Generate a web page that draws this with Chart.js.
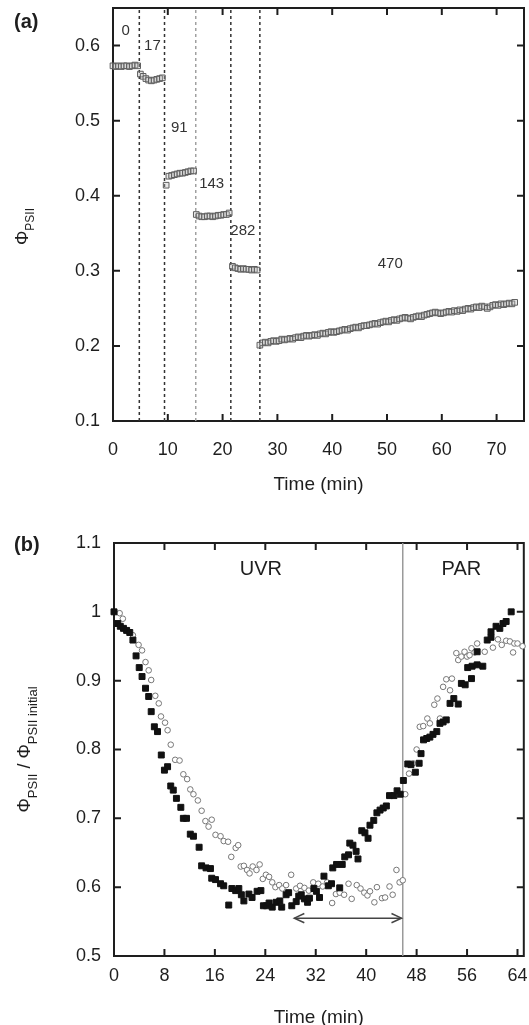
<!DOCTYPE html>
<html>
<head>
<meta charset="utf-8">
<script src="https://cdn.jsdelivr.net/npm/chart.js@4.4.1/dist/chart.umd.min.js"></script>
<style>
  html, body { margin: 0; padding: 0; background: #fff; }
  #wrapA { position: absolute; left: 0; top: 0; width: 529px; height: 505px; }
  #wrapB { position: absolute; left: 0; top: 505px; width: 529px; height: 520px; }
</style>
</head>
<body>
<div id="wrapA"><canvas id="chartA" width="529" height="505"></canvas></div>
<div id="wrapB"><canvas id="chartB" width="529" height="520"></canvas></div>
<script>
// ---- panel (a): PSII yield under stepwise irradiance ----
const aTime = [
  0.0, 0.5, 1.0, 1.5, 2.0, 2.5, 3.0, 3.5, 4.0, 4.5,
  5.0, 5.5, 6.0, 6.5, 7.0, 7.5, 8.0, 8.5, 9.0,
  9.7, 10.2, 10.7, 11.2, 11.7, 12.2, 12.7, 13.2, 13.7, 14.2, 14.7,
  15.2, 15.7, 16.2, 16.7, 17.2, 17.7, 18.2, 18.7, 19.2, 19.7, 20.2, 20.7, 21.2,
  21.8, 22.3, 22.8, 23.3, 23.8, 24.3, 24.8, 25.3, 25.8, 26.3,
  26.8, 27.3, 27.8, 28.3, 28.8, 29.3, 29.8, 30.3, 30.8, 31.3,
  31.8, 32.3, 32.8, 33.3, 33.8, 34.3, 34.8, 35.3, 35.8, 36.3,
  36.8, 37.3, 37.8, 38.3, 38.8, 39.3, 39.8, 40.3, 40.8, 41.3,
  41.8, 42.3, 42.8, 43.3, 43.8, 44.3, 44.8, 45.3, 45.8, 46.3,
  46.8, 47.3, 47.8, 48.3, 48.8, 49.3, 49.8, 50.3, 50.8, 51.3,
  51.8, 52.3, 52.8, 53.3, 53.8, 54.3, 54.8, 55.3, 55.8, 56.3,
  56.8, 57.3, 57.8, 58.3, 58.8, 59.3, 59.8, 60.3, 60.8, 61.3,
  61.8, 62.3, 62.8, 63.3, 63.8, 64.3, 64.8, 65.3, 65.8, 66.3,
  66.8, 67.3, 67.8, 68.3, 68.8, 69.3, 69.8, 70.3, 70.8, 71.3,
  71.8, 72.3, 72.8, 73.3
];
const aPsii = [
  0.573, 0.572, 0.573, 0.572, 0.573, 0.573, 0.572, 0.573, 0.574, 0.573,
  0.562, 0.559, 0.556, 0.554, 0.553, 0.554, 0.555, 0.556, 0.557,
  0.414, 0.426, 0.427, 0.428, 0.429, 0.430, 0.430, 0.431, 0.432, 0.433, 0.433,
  0.375, 0.373, 0.372, 0.372, 0.373, 0.373, 0.372, 0.373, 0.374, 0.374, 0.375, 0.375, 0.377,
  0.306, 0.304, 0.303, 0.302, 0.303, 0.302, 0.302, 0.301, 0.302, 0.301,
  0.201, 0.204, 0.205, 0.204, 0.206, 0.207, 0.206, 0.207, 0.209, 0.208,
  0.209, 0.210, 0.209, 0.211, 0.212, 0.211, 0.213, 0.214, 0.213, 0.214,
  0.215, 0.214, 0.216, 0.217, 0.216, 0.218, 0.219, 0.218, 0.219, 0.220,
  0.221, 0.222, 0.221, 0.223, 0.224, 0.225, 0.224, 0.226, 0.227, 0.227,
  0.228, 0.229, 0.230, 0.229, 0.231, 0.232, 0.233, 0.232, 0.234, 0.235,
  0.234, 0.236, 0.237, 0.238, 0.237, 0.236, 0.238, 0.239, 0.240, 0.239,
  0.241, 0.242, 0.243, 0.244, 0.245, 0.244, 0.243, 0.244, 0.245, 0.246,
  0.245, 0.247, 0.246, 0.248, 0.247, 0.249, 0.250, 0.249, 0.251, 0.252,
  0.251, 0.253, 0.252, 0.250, 0.252, 0.254, 0.255, 0.254, 0.256, 0.255,
  0.256, 0.257, 0.256, 0.258
];
// irradiance changes (min) and the irradiance of each step
const aSteps = [4.8, 9.4, 15.1, 21.5, 26.8];
const aLevels = ['0', '17', '91', '143', '282', '470'];

// ---- panel (b): relative yield, UVR then PAR ----
const bTimeSq = [
  0.0, 0.6, 1.0, 1.5, 2.0, 2.5, 3.0, 3.5, 4.0, 4.45, 5.0, 5.5, 5.9, 6.4, 6.9,
  7.5, 8.0, 8.5, 9.0, 9.4, 9.9, 10.6, 11.0, 11.5, 12.1, 12.6, 13.5, 13.9, 14.6,
  15.3, 15.5, 16.1, 16.9, 17.4, 18.2, 18.7, 19.3, 19.8, 20.2, 20.6, 21.4, 21.9,
  22.7, 23.3, 23.7, 24.2, 24.6, 25.1, 25.7, 26.3, 26.6, 27.3, 27.7, 28.2, 28.9,
  29.3, 29.7, 30.2, 30.7, 31.0, 31.7, 32.1, 32.6, 33.3, 34.0, 34.5, 34.7, 35.3,
  35.8, 36.2, 36.6, 37.2, 37.4, 37.9, 38.4, 38.7, 39.3, 39.8, 40.3, 40.6, 41.2,
  41.7, 42.2, 42.7, 43.2, 43.7, 44.4, 44.9, 45.4, 45.9, 46.6, 47.1, 47.8, 48.4,
  48.7, 49.1, 49.6, 50.1, 50.6, 51.2, 51.7, 52.2, 52.7, 53.3, 53.9, 54.6, 55.1,
  55.7, 56.1, 56.7, 56.8, 57.6, 57.6, 58.5, 59.2, 59.8, 59.8, 60.6, 61.2, 61.7,
  62.2, 63.0
];
const bSq = [
  1.000, 0.983, 0.979, 0.976, 0.973, 0.970, 0.959, 0.936, 0.919, 0.906, 0.889, 0.877, 0.855, 0.833, 0.826,
  0.792, 0.770, 0.775, 0.747, 0.741, 0.729, 0.716, 0.700, 0.700, 0.677, 0.674, 0.658, 0.631, 0.628,
  0.627, 0.613, 0.611, 0.605, 0.602, 0.574, 0.598, 0.595, 0.598, 0.589, 0.580, 0.590, 0.585,
  0.594, 0.595, 0.573, 0.573, 0.577, 0.571, 0.578, 0.580, 0.571, 0.589, 0.592, 0.573, 0.579,
  0.587, 0.589, 0.583, 0.578, 0.584, 0.598, 0.594, 0.585, 0.616, 0.602, 0.605, 0.628, 0.633,
  0.599, 0.633, 0.644, 0.647, 0.664, 0.661, 0.652, 0.641, 0.682, 0.679, 0.671, 0.690, 0.697,
  0.708, 0.712, 0.715, 0.718, 0.733, 0.733, 0.740, 0.735, 0.755, 0.779, 0.778, 0.767, 0.780,
  0.794, 0.814, 0.816, 0.818, 0.822, 0.826, 0.838, 0.840, 0.843, 0.867, 0.874, 0.866, 0.896,
  0.894, 0.919, 0.903, 0.921, 0.923, 0.942, 0.921, 0.959, 0.963, 0.971, 0.979, 0.976, 0.983,
  0.986, 1.000
];
const bTimeCi = [
  0.9, 1.4, 3.0, 3.9, 4.45, 5.0, 5.5, 5.9, 6.55, 7.1, 7.45, 8.1, 8.5, 9.0, 9.7,
  10.4, 11.0, 11.6, 12.1, 12.6, 13.3, 13.9, 14.5, 15.0, 15.5, 16.1, 16.9, 17.4,
  18.1, 18.6, 19.3, 19.7, 20.1, 20.6, 21.1, 21.5, 22.0, 22.6, 23.1, 23.6, 24.1,
  24.6, 25.1, 25.6, 26.2, 26.7, 27.3, 28.1, 28.9, 29.5, 30.2, 30.9, 31.6, 32.4,
  33.1, 33.8, 34.6, 35.2, 35.8, 36.5, 37.2, 37.7, 38.5, 39.1, 39.7, 40.2, 40.6,
  41.3, 41.7, 42.5, 43.0, 43.7, 44.2, 44.8, 45.3, 45.8, 46.2, 46.8, 47.4, 48.0,
  48.5, 49.05, 49.7, 50.1, 50.8, 51.3, 51.7, 52.2, 52.7, 53.3, 53.6, 54.3, 54.6,
  55.1, 55.6, 56.0, 56.4, 56.7, 57.2, 57.6, 58.8, 60.1, 60.9, 61.5, 62.2, 62.8,
  63.3, 63.5, 64.0, 64.8
];
const bCi = [
  0.998, 0.990, 0.966, 0.952, 0.944, 0.927, 0.915, 0.901, 0.878, 0.867, 0.848, 0.839, 0.828, 0.807, 0.785,
  0.784, 0.764, 0.757, 0.742, 0.735, 0.726, 0.711, 0.696, 0.688, 0.698, 0.676, 0.674, 0.667,
  0.666, 0.644, 0.657, 0.661, 0.630, 0.631, 0.625, 0.620, 0.630, 0.625, 0.633, 0.612, 0.618,
  0.615, 0.607, 0.600, 0.603, 0.598, 0.603, 0.618, 0.598, 0.602, 0.599, 0.595, 0.607, 0.605,
  0.601, 0.607, 0.577, 0.590, 0.592, 0.589, 0.605, 0.583, 0.603, 0.598, 0.592, 0.588, 0.594,
  0.578, 0.600, 0.584, 0.585, 0.601, 0.589, 0.625, 0.607, 0.610, 0.735, 0.765, 0.780, 0.800,
  0.833, 0.834, 0.845, 0.838, 0.865, 0.874, 0.845, 0.891, 0.902, 0.886, 0.903, 0.940, 0.930,
  0.935, 0.942, 0.935, 0.937, 0.947, 0.941, 0.954, 0.942, 0.948, 0.960, 0.952, 0.958, 0.957,
  0.941, 0.954, 0.954, 0.950
];
const bSwitch = 45.8;          // UVR off, PAR on
const bArrow = [28.6, 45.6];   // recovery window
const bArrowLevel = 0.555;

const FONT = "'Liberation Sans', Arial, Helvetica, sans-serif";
const INK = '#1e1e1e';

function pairs(xs, ys) {
  return xs.map((x, i) => ({ x: x, y: ys[i] }));
}

function fmt(v) {
  return String(+v.toFixed(2));
}

// frame on all four sides with inward ticks
const framePlugin = {
  id: 'frame',
  beforeDatasetsDraw(chart) {
    const { ctx, chartArea: a } = chart;
    const x = chart.scales.x, y = chart.scales.y;
    const len = 7;
    ctx.save();
    ctx.strokeStyle = INK;
    ctx.lineWidth = 2;
    ctx.strokeRect(a.left, a.top, a.right - a.left, a.bottom - a.top);
    ctx.beginPath();
    x.ticks.forEach(t => {
      const px = x.getPixelForValue(t.value);
      ctx.moveTo(px, a.bottom); ctx.lineTo(px, a.bottom - len);
      ctx.moveTo(px, a.top); ctx.lineTo(px, a.top + len);
    });
    y.ticks.forEach(t => {
      const py = y.getPixelForValue(t.value);
      ctx.moveTo(a.left, py); ctx.lineTo(a.left + len, py);
      ctx.moveTo(a.right, py); ctx.lineTo(a.right - len, py);
    });
    ctx.stroke();
    ctx.restore();
  }
};

// open arrow heads at both ends of datasets flagged with arrow: true
const arrowPlugin = {
  id: 'arrowHeads',
  afterDatasetsDraw(chart) {
    const ctx = chart.ctx;
    chart.data.datasets.forEach((ds, i) => {
      if (!ds.arrow) return;
      const pts = chart.getDatasetMeta(i).data;
      const ends = [[pts[0], pts[1]], [pts[pts.length - 1], pts[pts.length - 2]]];
      ctx.save();
      ctx.strokeStyle = ds.borderColor;
      ctx.lineWidth = ds.borderWidth;
      ends.forEach(([tip, from]) => {
        const ang = Math.atan2(from.y - tip.y, from.x - tip.x);
        const L = 11, w = 0.43;
        ctx.beginPath();
        ctx.moveTo(tip.x + L * Math.cos(ang + w), tip.y + L * Math.sin(ang + w));
        ctx.lineTo(tip.x, tip.y);
        ctx.lineTo(tip.x + L * Math.cos(ang - w), tip.y + L * Math.sin(ang - w));
        ctx.stroke();
      });
      ctx.restore();
    });
  }
};

// text: panel letter, axis titles (with subscripts) and in-plot notes
const textPlugin = {
  id: 'texts',
  afterDraw(chart, args, opts) {
    const ctx = chart.ctx;
    const x = chart.scales.x, y = chart.scales.y;
    ctx.save();
    ctx.fillStyle = INK;
    ctx.textBaseline = 'middle';
    ctx.textAlign = 'left';
    ctx.font = 'bold 20px ' + FONT;
    ctx.fillText(opts.letter, 14, opts.letterY);

    ctx.textAlign = 'center';
    ctx.font = '19px ' + FONT;
    ctx.fillText('Time (min)', (chart.chartArea.left + chart.chartArea.right) / 2, opts.xTitleY);

    (opts.notes || []).forEach(n => {
      ctx.fillStyle = n.color || INK;
      ctx.font = n.size + 'px ' + FONT;
      ctx.fillText(n.text, x.getPixelForValue(n.x), y.getPixelForValue(n.y));
    });

    // rotated y title built from parts
    ctx.fillStyle = INK;
    ctx.translate(opts.yTitle.x, (chart.chartArea.top + chart.chartArea.bottom) / 2 + opts.yTitle.shift);
    ctx.rotate(-Math.PI / 2);
    ctx.textAlign = 'left';
    ctx.textBaseline = 'alphabetic';
    let total = 0;
    opts.yTitle.parts.forEach(p => {
      ctx.font = p.size + 'px ' + FONT;
      p.w = ctx.measureText(p.text).width;
      total += p.w;
    });
    let cx = -total / 2;
    opts.yTitle.parts.forEach(p => {
      ctx.font = p.size + 'px ' + FONT;
      ctx.fillText(p.text, cx, p.dy);
      cx += p.w;
    });
    ctx.restore();
  }
};

function axes(xMin, xMax, xStep, yMin, yMax, yStep, yWidth, xHeight, xPad) {
  const tickFont = { family: FONT, size: 18 };
  return {
    x: {
      type: 'linear', min: xMin, max: xMax,
      ticks: { stepSize: xStep, includeBounds: false, color: INK, font: tickFont, padding: xPad, maxRotation: 0 },
      grid: { display: false, drawTicks: false },
      border: { display: false },
      afterFit: s => { s.height = xHeight; s.paddingLeft = 0; s.paddingRight = 0; }
    },
    y: {
      type: 'linear', min: yMin, max: yMax,
      ticks: { stepSize: yStep, includeBounds: false, color: INK, font: tickFont, padding: 13, callback: fmt },
      grid: { display: false, drawTicks: false },
      border: { display: false },
      afterFit: s => { s.width = yWidth; s.paddingTop = 0; s.paddingBottom = 0; }
    }
  };
}

window.onload = function () {
  const stepLines = aSteps.map((t, i) => ({
    data: [{ x: t, y: 0.1 }, { x: t, y: 0.65 }],
    showLine: true, pointRadius: 0, borderWidth: 1.5,
    borderColor: i === 2 ? '#a0a0a0' : '#333',
    borderDash: [3, 3]
  }));
  const aNotes = [
    { text: aLevels[0], x: 2.3, y: 0.619, size: 15, color: '#333' },
    { text: aLevels[1], x: 7.2, y: 0.600, size: 15, color: '#333' },
    { text: aLevels[2], x: 12.1, y: 0.491, size: 15, color: '#333' },
    { text: aLevels[3], x: 18.0, y: 0.416, size: 15, color: '#333' },
    { text: aLevels[4], x: 23.7, y: 0.353, size: 15, color: '#333' },
    { text: aLevels[5], x: 50.6, y: 0.309, size: 15, color: '#333' }
  ];

  new Chart(document.getElementById('chartA'), {
    type: 'scatter',
    data: {
      datasets: [{
        data: pairs(aTime, aPsii),
        pointStyle: 'rect', pointRadius: 4,
        borderColor: '#5e5e5e', borderWidth: 1,
        backgroundColor: 'rgba(190,190,190,0.35)',
        clip: false
      }].concat(stepLines)
    },
    options: {
      responsive: false, animation: false,
      layout: { padding: { top: 8, right: 3, left: 0, bottom: 0 } },
      scales: axes(0, 75, 10, 0.1, 0.65, 0.1, 113, 84, 18),
      plugins: {
        legend: { display: false }, tooltip: { enabled: false },
        texts: {
          letter: '(a)', letterY: 22, xTitleY: 485,
          notes: aNotes,
          yTitle: { x: 28, shift: 12, parts: [
            { text: '\u03A6', size: 18, dy: 0 },
            { text: 'PSII', size: 12, dy: 6 }
          ] }
        }
      }
    },
    plugins: [framePlugin, arrowPlugin, textPlugin]
  });

  new Chart(document.getElementById('chartB'), {
    type: 'scatter',
    data: {
      datasets: [
        {
          data: pairs(bTimeSq, bSq),
          pointStyle: 'rect', pointRadius: 4.2,
          borderColor: '#111', borderWidth: 1, backgroundColor: '#111',
          clip: false
        },
        {
          data: pairs(bTimeCi, bCi),
          pointStyle: 'circle', pointRadius: 2.8,
          borderColor: '#777', borderWidth: 1, backgroundColor: '#fff',
          clip: false
        },
        {
          data: [{ x: bSwitch, y: 0.5 }, { x: bSwitch, y: 1.1 }],
          showLine: true, pointRadius: 0, borderWidth: 1.5, borderColor: '#9a9a9a'
        },
        {
          data: [{ x: bArrow[0], y: bArrowLevel }, { x: bArrow[1], y: bArrowLevel }],
          showLine: true, pointRadius: 0, borderWidth: 1.5, borderColor: '#444',
          arrow: true
        }
      ]
    },
    options: {
      responsive: false, animation: false,
      layout: { padding: { top: 38, right: 3, left: 0, bottom: 0 } },
      scales: axes(0, 65, 8, 0.5, 1.1, 0.1, 114, 69, 9),
      plugins: {
        legend: { display: false }, tooltip: { enabled: false },
        texts: {
          letter: '(b)', letterY: 40, xTitleY: 513,
          notes: [
            { text: 'UVR', x: 23.3, y: 1.061, size: 20 },
            { text: 'PAR', x: 55.1, y: 1.061, size: 20 }
          ],
          yTitle: { x: 30, shift: 0, parts: [
            { text: '\u03A6', size: 18, dy: 0 },
            { text: 'PSII', size: 13, dy: 7 },
            { text: ' / \u03A6', size: 18, dy: 0 },
            { text: 'PSII initial', size: 13, dy: 7 }
          ] }
        }
      }
    },
    plugins: [framePlugin, arrowPlugin, textPlugin]
  });
};
</script>
</body>
</html>
